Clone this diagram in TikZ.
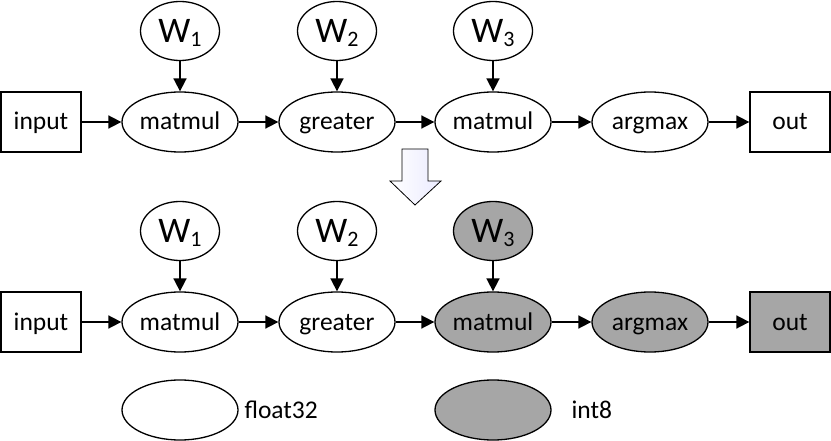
\documentclass[tikz,border=0pt]{standalone}
\usepackage{fontspec}
\setmainfont{Carlito}
\usetikzlibrary{arrows.meta,positioning,shapes.geometric}
\definecolor{qgray}{RGB}{166,166,166}
\newcommand{\Wt}[1]{{\fontsize{36}{36}\selectfont W}\raisebox{-0.3ex}{\fontsize{22}{22}\selectfont #1}}

\begin{document}
\begin{tikzpicture}[x=1pt, y=-1pt,
  >={Triangle[length=13pt,width=13pt]},
  every node/.style={font=\fontsize{25.5}{25.5}\selectfont},
  op/.style={draw, line width=1.3pt, ellipse, minimum width=116pt,
             minimum height=60pt, inner sep=0pt, fill=white,
             text height=18pt, text depth=2pt},
  wt/.style={op, minimum width=79pt, minimum height=59pt,
             text height=26pt, text depth=2pt},
  io/.style={draw, line width=1.3pt, minimum width=80pt, minimum height=60pt,
             inner sep=0pt, fill=white, text height=18pt, text depth=2pt},
  q/.style={fill=qgray},
  lnk/.style={->, line width=1.7pt}
]
  \useasboundingbox (0,0) rectangle (831,441);

  % float32 graph
  \node[io] (inA) at (41,122) {input};
  \node[op] (mmA) at (180,122) {matmul};
  \node[op] (grA) at (337,122) {greater};
  \node[op] (mm2A) at (493,122) {matmul};
  \node[op] (amA) at (650,122) {argmax};
  \node[io] (outA) at (790,122) {out};
  \node[wt] (w1A) at (180,31) {\Wt{1}};
  \node[wt] (w2A) at (337,31) {\Wt{2}};
  \node[wt] (w3A) at (493,31) {\Wt{3}};
  \foreach \a/\b in {inA/mmA,mmA/grA,grA/mm2A,mm2A/amA,amA/outA,w1A/mmA,w2A/grA,w3A/mm2A}
    \draw[lnk] (\a) -- (\b);

  % conversion arrow
  \draw[line width=0.8pt, left color=white, right color=blue!8!white]
    (402,149) -- (428,149) -- (428,181) -- (441,181) -- (415,205)
    -- (390,181) -- (402,181) -- cycle;

  % mixed graph
  \node[io] (inB) at (41,322) {input};
  \node[op] (mmB) at (180,322) {matmul};
  \node[op] (grB) at (337,322) {greater};
  \node[op, q] (mm2B) at (493,322) {matmul};
  \node[op, q] (amB) at (650,322) {argmax};
  \node[io, q] (outB) at (790,322) {out};
  \node[wt] (w1B) at (180,231) {\Wt{1}};
  \node[wt] (w2B) at (337,231) {\Wt{2}};
  \node[wt, q] (w3B) at (493,231) {\Wt{3}};
  \foreach \a/\b in {inB/mmB,mmB/grB,grB/mm2B,mm2B/amB,amB/outB,w1B/mmB,w2B/grB,w3B/mm2B}
    \draw[lnk] (\a) -- (\b);

  % legend
  \node[op] (keyF) at (180,410) {};
  \node[anchor=west, text height=18pt, text depth=2pt] (txtF) at (241,410) {float32};
  \node[op, q] (keyI) at (493,410) {};
  \node[anchor=west, text height=18pt, text depth=2pt] (txtI) at (568,410) {int8};
\end{tikzpicture}
\end{document}
